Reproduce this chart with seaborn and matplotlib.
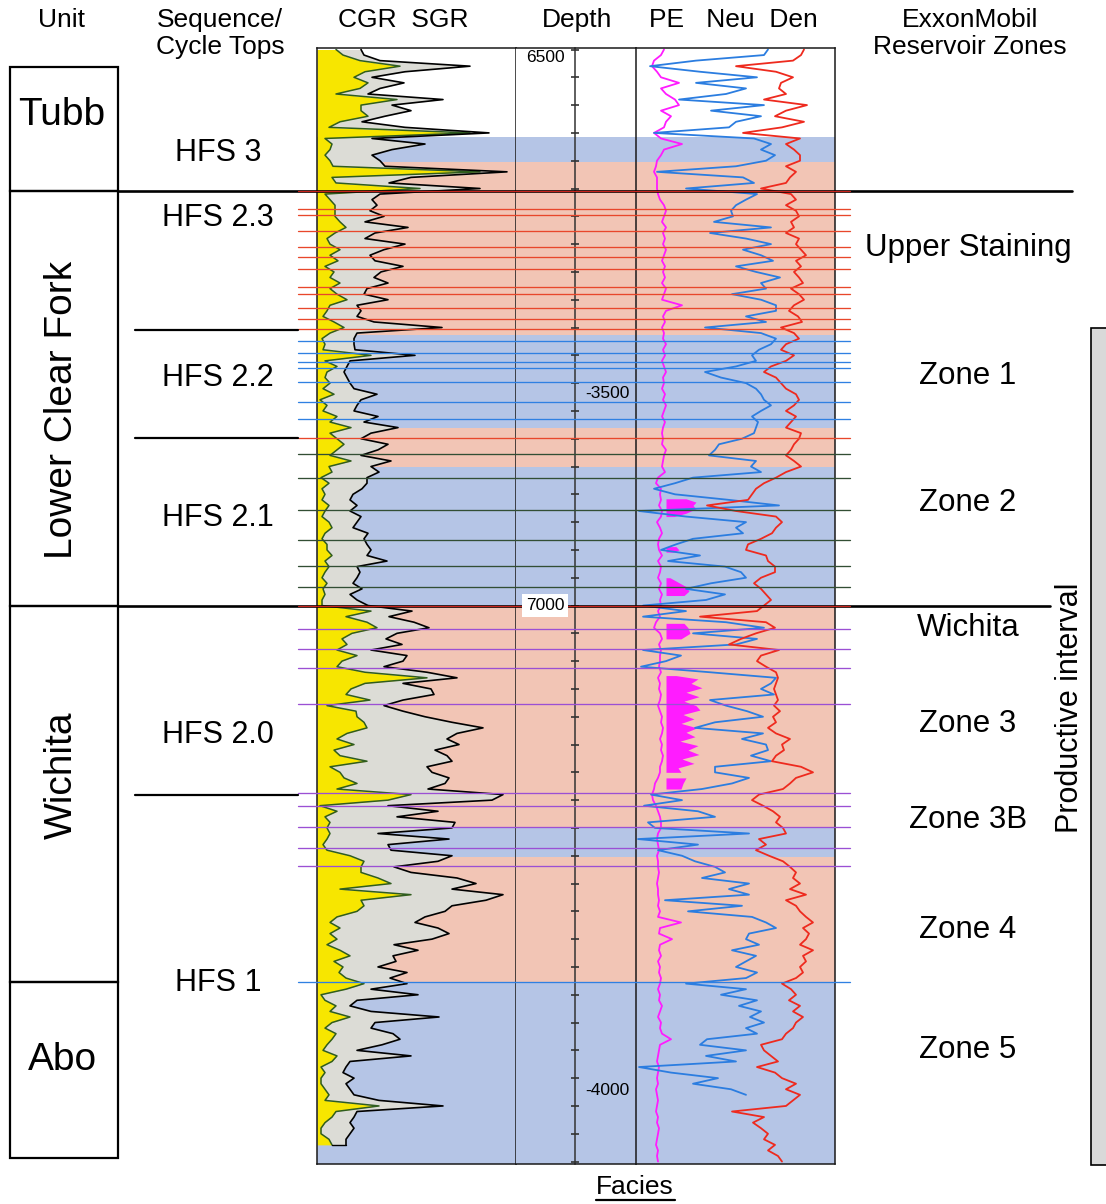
import numpy as np
import matplotlib
matplotlib.use("Agg")
import matplotlib.pyplot as plt
import matplotlib.transforms as mtransforms
from matplotlib.patches import Rectangle
from matplotlib.ticker import MultipleLocator
import seaborn as sns

sns.set_style("white")
plt.rcParams["font.family"] = ["Liberation Sans", "DejaVu Sans"]
plt.rcParams["text.color"] = "black"

# ---------------- data ----------------
STEP = 5  # ft sampling of the digitised logs, starting at 6500 ft
TOP_DEPTH = 6500

# spectral GR (track units 0-199)
sgr = [44, 47, 63, 153, 88, 55, 87, 63, 51, 126,
       75, 94, 68, 45, 88, 172, 55, 108, 75, 55,
       63, 68, 190, 94, 72, 163, 63, 55, 60, 53,
       67, 48, 91, 58, 48, 88, 67, 53, 58, 86,
       64, 57, 71, 50, 47, 71, 40, 44, 40, 57,
       125, 40, 37, 37, 38, 98, 33, 30, 27, 30,
       33, 37, 60, 44, 40, 37, 61, 47, 81, 54,
       44, 71, 61, 44, 74, 54, 62, 50, 50, 45,
       36, 33, 40, 33, 44, 40, 36, 51, 47, 50,
       54, 50, 70, 40, 43, 40, 36, 45, 33, 40,
       51, 95, 72, 97, 112, 80, 69, 85, 54, 90,
       86, 67, 110, 140, 86, 114, 117, 86, 67, 86,
       108, 135, 166, 140, 130, 142, 118, 130, 135, 110,
       115, 132, 128, 111, 186, 175, 71, 121, 80, 138,
       135, 61, 132, 71, 74, 135, 121, 77, 94, 140,
       159, 135, 186, 169, 135, 128, 108, 98, 121, 132,
       115, 77, 101, 76, 79, 61, 90, 73, 90, 54,
       101, 40, 33, 54, 122, 58, 54, 76, 83, 65,
       40, 94, 33, 29, 26, 37, 29, 33, 37, 62,
       126, 40, 37, 33, 37, 33, 29, 29]
# computed GR (uranium-free)
cgr = [19, 26, 43, 83, 48, 37, 51, 43, 19, 80,
       44, 44, 51, 23, 12, 153, 8, 15, 13, 8,
       13, 16, 163, 15, 19, 103, 8, 13, 18, 18,
       18, 23, 29, 18, 10, 13, 23, 13, 21, 8,
       17, 13, 23, 13, 20, 30, 13, 10, 6, 17,
       27, 13, 5, 8, 6, 54, 8, 20, 10, 8,
       13, 6, 17, 3, 10, 6, 20, 13, 34, 13,
       20, 27, 20, 13, 34, 12, 15, 4, 12, 5,
       8, 5, 12, 8, 5, 12, 15, 8, 5, 10,
       10, 15, 8, 12, 8, 5, 10, 6, 8, 5,
       5, 54, 29, 50, 60, 35, 25, 30, 20, 40,
       25, 20, 48, 110, 48, 34, 29, 53, 10, 39,
       40, 47, 50, 30, 20, 37, 17, 23, 50, 13,
       23, 27, 40, 20, 94, 71, 3, 20, 8, 13,
       10, 13, 10, 6, 10, 33, 47, 44, 44, 61,
       74, 23, 94, 44, 47, 40, 20, 13, 23, 13,
       20, 10, 23, 33, 17, 26, 22, 29, 47, 29,
       4, 8, 19, 13, 33, 15, 8, 19, 15, 10,
       6, 20, 15, 4, 8, 4, 4, 8, 12, 8,
       62, 19, 15, 8, 4, 4, 12, 15]
# neutron porosity (track units 0-199)
neu = [132, 128, 60, 14, 64, 121, 60, 110, 90, 43,
       128, 75, 125, 100, 93, 18, 118, 135, 125, 139,
       130, 100, 21, 107, 118, 50, 121, 110, 100, 95,
       97, 78, 135, 74, 110, 135, 107, 125, 137, 100,
       120, 144, 125, 130, 96, 125, 140, 140, 110, 130,
       69, 125, 140, 135, 123, 116, 120, 100, 69, 85,
       110, 120, 125, 128, 135, 125, 116, 122, 120, 118,
       106, 83, 79, 73, 120, 115, 125, 57, 39, 18,
       39, 93, 143, 3, 50, 110, 100, 107, 57, 40,
       25, 64, 32, 89, 105, 110, 75, 50, 89, 70,
       7, 50, 7, 90, 128, 57, 121, 100, 7, 45,
       30, 5, 74, 140, 135, 125, 138, 74, 90, 111,
       127, 79, 59, 127, 106, 130, 132, 115, 135, 79,
       79, 113, 96, 66, 15, 46, 8, 62, 79, 12,
       19, 113, 2, 62, 22, 46, 59, 79, 89, 66,
       113, 93, 113, 29, 106, 52, 116, 130, 140, 113,
       110, 123, 96, 120, 110, 100, 121, 110, 50, 110,
       85, 121, 103, 125, 114, 128, 110, 121, 71, 64,
       110, 70, 100, 3, 35, 82, 57, 95, 110]
# bulk density (track units 0-199)
den = [168, 165, 157, 100, 140, 157, 145, 143, 150, 128,
       171, 150, 139, 168, 146, 107, 164, 150, 158, 164,
       164, 150, 160, 154, 150, 125, 155, 160, 150, 160,
       163, 155, 158, 150, 163, 160, 165, 170, 160, 165,
       158, 163, 167, 155, 163, 168, 158, 153, 162, 166,
       145, 158, 163, 150, 145, 158, 150, 135, 128, 140,
       145, 150, 160, 163, 158, 150, 160, 155, 150, 165,
       163, 158, 155, 150, 158, 165, 150, 140, 128, 120,
       116, 112, 71, 100, 140, 146, 140, 136, 125, 112,
       110, 130, 132, 139, 139, 125, 118, 125, 130, 135,
       128, 121, 64, 130, 139, 120, 105, 93, 143, 125,
       121, 130, 140, 142, 140, 138, 140, 142, 138, 144,
       137, 140, 132, 140, 154, 146, 148, 140, 136, 165,
       177, 160, 154, 147, 123, 116, 127, 137, 144, 140,
       147, 150, 123, 130, 120, 133, 147, 154, 160, 157,
       164, 154, 170, 150, 160, 164, 170, 177, 167, 173,
       170, 164, 177, 167, 170, 164, 167, 160, 146, 155,
       160, 153, 164, 157, 167, 160, 157, 150, 146, 125,
       128, 135, 142, 121, 139, 146, 160, 150, 164, 157,
       150, 96, 128, 117, 125, 132, 128, 139, 132, 142,
       146]
# photoelectric factor (track units 0-199)
pe = [28, 25, 18, 16, 21, 25, 43, 25, 30, 39,
      43, 25, 35, 30, 28, 18, 25, 46, 28, 25,
      21, 20, 18, 21, 21, 21, 22, 24, 28, 30,
      28, 26, 30, 27, 29, 27, 30, 28, 26, 29,
      27, 29, 26, 30, 28, 26, 46, 30, 27, 29,
      26, 28, 27, 30, 27, 29, 26, 28, 30, 27,
      28, 26, 29, 27, 30, 28, 26, 29, 27, 26,
      27, 26, 30, 28, 27, 26, 29, 22, 20, 25,
      24, 25, 23, 26, 25, 21, 24, 26, 23, 22,
      23, 26, 22, 25, 24, 22, 25, 23, 26, 24,
      25, 22, 24, 20, 18, 24, 26, 23, 25, 24,
      24, 23, 25, 22, 24, 23, 25, 24, 22, 24,
      26, 25, 27, 26, 24, 26, 25, 27, 26, 24,
      24, 22, 19, 18, 16, 17, 20, 22, 24, 25,
      25, 22, 21, 22, 23, 21, 22, 22, 23, 22,
      21, 22, 22, 23, 22, 24, 22, 45, 24, 23,
      36, 24, 23, 25, 22, 24, 23, 25, 24, 22,
      24, 23, 26, 24, 22, 25, 24, 26, 35, 24,
      23, 22, 21, 23, 22, 21, 22, 20, 21, 22,
      21, 20, 22, 21, 23, 22, 21, 20, 22, 21,
      22]
# PE shading (edge of the magenta fill), in segments
pe_fill_base = 30
pe_fill_depth = [[6904, 6907, 6910, 6913, 6917, 6920],
                 [6947, 6950, 6952],
                 [6975, 6979, 6983, 6987, 6991],
                 [7016, 7020, 7025, 7030],
                 [7063, 7066, 7070, 7074, 7078, 7082, 7086, 7090, 7094, 7098, 7102,
                  7106, 7110, 7114, 7118, 7122, 7126, 7130, 7134, 7138, 7142, 7146, 7150],
                 [7155, 7160, 7165]]
pe_fill_val = [[50, 60, 57, 60, 50, 38],
               [40, 43, 38],
               [34, 42, 50, 53, 48],
               [48, 52, 54, 45],
               [40, 62, 55, 66, 50, 63, 48, 60, 64, 47, 58,
                45, 61, 50, 59, 44, 62, 52, 63, 46, 58, 42, 45],
               [50, 47, 45]]

# facies bands (top, base, kind)
facies_top = [6578.7, 6601.2, 6756.7, 6840.4, 6875.5, 7000.2, 7199.2, 7226.2, 7338.6]
facies_base = [6601.2, 6756.7, 6840.4, 6875.5, 7000.2, 7199.2, 7226.2, 7338.6, 7502.2]
facies_kind = ["blue", "salmon", "blue", "salmon", "blue", "salmon", "blue", "salmon", "blue"]

# cycle tops
red_tops = [6643.4, 6648.8, 6663.2, 6677.6, 6686.6, 6697.4, 6713.6, 6719.9,
            6732.5, 6742.4, 6751.4, 6849.4]
blue_tops = [6762.1, 6772.9, 6781.0, 6786.4, 6799.0, 6817.0, 6832.3, 7338.6]
green_tops = [6863.8, 6885.3, 6914.1, 6941.1, 6964.5, 6983.4]
purple_tops = [7021.1, 7039.1, 7056.2, 7088.6, 7168.6, 7180.3, 7199.2, 7218.1, 7234.3]
unit_boundaries = [6627.0, 7000.2]
sequence_tops = [6752.3, 6849.4, 7170.5]

units = ["Tubb", "Lower Clear Fork", "Wichita", "Abo"]
unit_top = [6515.7, 6627.0, 7000.2, 7338.6]
unit_base = [6627.0, 7000.2, 7338.6, 7496.9]
unit_label_depth = [6558.9, 6824.2, 7152.5, 7408.8]

hfs_labels = ["HFS 3", "HFS 2.3", "HFS 2.2", "HFS 2.1", "HFS 2.0", "HFS 1"]
hfs_depth = [6593.0, 6651.5, 6795.4, 6921.3, 7116.5, 7339.5]

zone_labels = ["Upper Staining", "Zone 1", "Zone 2", "Wichita", "Zone 3",
               "Zone 3B", "Zone 4", "Zone 5"]
zone_depth = [6678.5, 6793.6, 6907.8, 7020.3, 7106.6, 7193.0, 7291.9, 7399.8]

productive_top = 6750.4
productive_base = 7503.5

md_labels = [6500, 7000]
ss_labels = [-3500, -4000]
ss_md = [6808.9, 7435.8]

# ---------------- styling ----------------
W, H = 1106, 1204
D_TOP, D_BOT = 6498.65, 7502.2
C_BLUE = "#b5c5e6"
C_SALMON = "#f2c5b5"
C_YELLOW = "#f7e600"
C_GRAY = "#dcdcd6"
C_GREEN = "#2f5d1f"
C_NEU = "#2b7de0"
C_DEN = "#ee2a1e"
C_PE = "#ff1cff"
C_RED_TOP = "#e8472b"
C_BLUE_TOP = "#2f80e2"
C_GREEN_TOP = "#324e34"
C_PURPLE_TOP = "#9b50d4"

fig = plt.figure(figsize=(W / 100, H / 100), dpi=100)


def rect(x0, x1, y0, y1):
    return [x0 / W, 1 - y1 / H, (x1 - x0) / W, (y1 - y0) / H]


ax1 = fig.add_axes(rect(317, 516, 48, 1164))
ax2 = fig.add_axes(rect(516, 636, 48, 1164))
ax3 = fig.add_axes(rect(636, 835, 48, 1164))

for ax in (ax1, ax2, ax3):
    ax.set_ylim(D_BOT, D_TOP)
    for t, b, k in zip(facies_top, facies_base, facies_kind):
        ax.axhspan(t, b, color=C_BLUE if k == "blue" else C_SALMON, lw=0, zorder=0)
    ax.set_xticks([])
    for s in ax.spines.values():
        s.set_color("#1a1a1a")
        s.set_linewidth(1.1)

ax1.set_yticks([])
ax3.set_yticks([])

# depth track: axis spine in the centre with 25 ft ticks
ax2.spines["right"].set_visible(False)
ax2.spines["left"].set_position(("axes", 0.49))
ax2.spines["left"].set_color("#333333")
ax2.yaxis.set_major_locator(MultipleLocator(25))
ax2.tick_params(axis="y", direction="inout", length=6, width=1.2, left=True,
                right=False, labelleft=False, colors="#333333")

# GR track
d_gr = np.arange(len(sgr)) * STEP + TOP_DEPTH
ax1.fill_betweenx(d_gr, 0, cgr, color=C_YELLOW, lw=0, zorder=1)
ax1.fill_betweenx(d_gr, cgr, sgr, color=C_GRAY, lw=0, zorder=1)
sns.lineplot(x=cgr, y=d_gr, orient="y", sort=False, estimator=None, ax=ax1,
             color=C_GREEN, lw=1.1, zorder=2)
sns.lineplot(x=sgr, y=d_gr, orient="y", sort=False, estimator=None, ax=ax1,
             color="black", lw=1.2, zorder=3)
ax1.plot([cgr[-1], sgr[-1]], [d_gr[-1], d_gr[-1]], color="black", lw=1.0, zorder=3)

# porosity track
d_pe = np.arange(len(pe)) * STEP + TOP_DEPTH
d_den = np.arange(len(den)) * STEP + TOP_DEPTH
d_neu = np.arange(len(neu)) * STEP + TOP_DEPTH
for dd, vv in zip(pe_fill_depth, pe_fill_val):
    ax3.fill_betweenx(dd, pe_fill_base, vv, color=C_PE, lw=0, zorder=1)
sns.lineplot(x=pe, y=d_pe, orient="y", sort=False, estimator=None, ax=ax3,
             color=C_PE, lw=1.3, zorder=2)
sns.lineplot(x=neu, y=d_neu, orient="y", sort=False, estimator=None, ax=ax3,
             color=C_NEU, lw=1.3, zorder=2)
sns.lineplot(x=den, y=d_den, orient="y", sort=False, estimator=None, ax=ax3,
             color=C_DEN, lw=1.3, zorder=2)
for ax in (ax1, ax2, ax3):
    ax.set_ylim(D_BOT, D_TOP)
    ax.set_xlabel("")
    ax.set_ylabel("")
    if ax.get_legend():
        ax.get_legend().remove()
ax1.set_xlim(0, 199)
ax2.set_xlim(0, 1)
ax3.set_xlim(0, 199)

# ---------------- overlay (layout in pixels, depth via track scale) ----------------
ov = fig.add_axes([0, 0, 1, 1], zorder=10)
ov.set_xlim(0, W)
ov.set_ylim(H, 0)
ov.axis("off")
ov.patch.set_alpha(0)
T = mtransforms.blended_transform_factory(ov.transData, ax1.transData)

for tops, col in ((red_tops, C_RED_TOP), (blue_tops, C_BLUE_TOP),
                  (green_tops, C_GREEN_TOP), (purple_tops, C_PURPLE_TOP)):
    for d in tops:
        ov.plot([298, 850], [d, d], color=col, lw=0.95, transform=T)

for d, x1 in zip(unit_boundaries, [1072, 1050]):
    ov.plot([118, x1], [d, d], color="black", lw=1.9, transform=T)
    ov.plot([298, 850], [d, d], color="#c8231b", lw=0.9, transform=T)
for d in sequence_tops:
    ov.plot([135, 298], [d, d], color="black", lw=1.6, transform=T)

# unit column
for name, t, b, ld in zip(units, unit_top, unit_base, unit_label_depth):
    ov.add_patch(Rectangle((10, t), 108, b - t, transform=T, fill=False,
                           edgecolor="black", lw=1.6))
    rot = 90 if len(name) > 4 else 0
    ov.text(62, ld, name, transform=T, ha="center", va="center", rotation=rot,
            fontsize=28)

for name, d in zip(hfs_labels, hfs_depth):
    ov.text(218, d, name, transform=T, ha="center", va="center", fontsize=22)
for name, d in zip(zone_labels, zone_depth):
    ov.text(968, d, name, transform=T, ha="center", va="center", fontsize=22.5)

# productive interval
ov.add_patch(Rectangle((1091, productive_top), 40, productive_base - productive_top,
                       transform=T, facecolor="#d9d9d9", edgecolor="black", lw=1.2))
ov.text(1070, (productive_top + productive_base) / 2 - 35, "Productive interval",
        transform=T, ha="center", va="center", rotation=90, fontsize=22)

# depth labels
ov.text(545, md_labels[0], str(md_labels[0]), transform=T, ha="center", va="top",
        fontsize=12.5)
ov.text(545, md_labels[1], str(md_labels[1]), transform=T, ha="center", va="center",
        fontsize=12.5, bbox=dict(facecolor="white", edgecolor="none", pad=3))
for v, d in zip(ss_labels, ss_md):
    ov.text(607, d, str(v), transform=T, ha="center", va="center", fontsize=12.5)

# headers
hdr = dict(ha="center", va="center", fontsize=19)
ov.text(62, 20, "Unit", **hdr)
ov.text(220, 20, "Sequence/", **hdr)
ov.text(220, 47, "Cycle Tops", **hdr)
ov.text(403, 20, "CGR  SGR", **hdr)
ov.text(577, 20, "Depth", **hdr)
ov.text(733, 20, "PE   Neu  Den", **hdr)
ov.text(970, 20, "ExxonMobil", **hdr)
ov.text(970, 47, "Reservoir Zones", **hdr)
ov.text(635, 1187, "Facies", **hdr)
ov.plot([596, 675], [1200, 1200], color="black", lw=1.6)

fig.savefig("out.png", dpi=100)
